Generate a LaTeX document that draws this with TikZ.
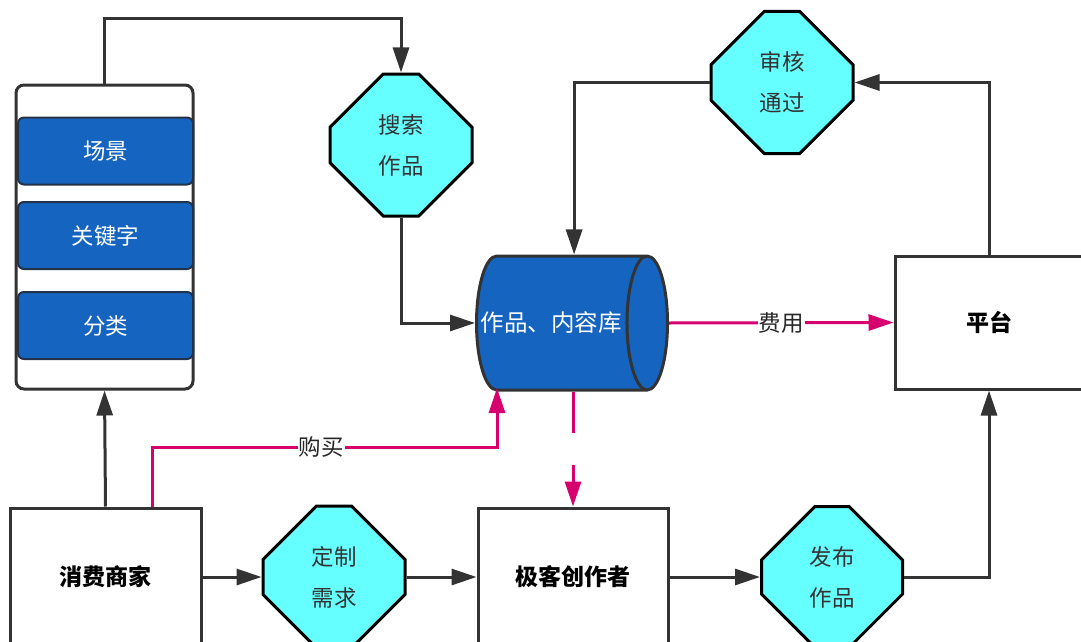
\documentclass[tikz,border=0pt]{standalone}
\usepackage{fontspec}
\setmainfont{Noto Sans CJK SC}
\usetikzlibrary{shapes.geometric,shapes.misc,arrows.meta,calc}
\definecolor{lineg}{RGB}{51,51,51}
\definecolor{pinkc}{RGB}{214,0,110}
\definecolor{cyanf}{RGB}{102,255,255}
\definecolor{blueb}{RGB}{21,101,192}
\definecolor{blued}{RGB}{35,50,75}
\begin{document}
\begin{tikzpicture}[x=1pt,y=-1pt,
  font=\fontsize{22.5}{41}\selectfont,
  octa/.style={chamfered rectangle, chamfered rectangle xsep=42pt, chamfered rectangle ysep=42pt,
    draw=black, line width=3pt, fill=cyanf, inner sep=0pt, minimum width=#1, minimum height=#1,
    align=center, text=black!80},
  plainbox/.style={draw=lineg, line width=3pt, fill=white, inner sep=0pt, font=\fontsize{23}{41}\selectfont\bfseries},
  bluebox/.style={draw=blued, line width=2pt, fill=blueb, rounded corners=6pt, inner sep=0pt,
    minimum width=175pt, minimum height=67pt, text=white},
  arr/.style={draw=lineg, line width=3pt, -{Triangle[length=25pt,width=16pt]}},
  parr/.style={draw=pinkc, line width=3pt, -{Triangle[length=25pt,width=16pt]}},
  lbl/.style={fill=white, inner sep=1pt, text=black!85}
]
\useasboundingbox (0,0) rectangle (1081,642);

% left container
\node[draw=lineg, line width=3pt, fill=white, rounded corners=8pt, minimum width=177pt, minimum height=304pt, inner sep=0pt] (cont) at (104.5,237) {};
\node[bluebox] (scene) at (105.5,151) {场景};
\node[bluebox] (kw) at (105.5,235.5) {关键字};
\node[bluebox] (cat) at (105.5,325.5) {分类};

% octagons
\node[octa=142pt] (search) at (401,145) {搜索\\作品};
\node[octa=142pt] (audit) at (782,82.5) {审核\\通过};
\node[octa=142pt] (need) at (334,577) {定制\\需求};
\node[octa=141pt] (pub) at (832,577) {发布\\作品};

% cylinder
\node[cylinder, draw=lineg, line width=3pt, cylinder uses custom fill, cylinder body fill=blueb,
  cylinder end fill=blueb, minimum width=134pt, minimum height=191pt, shape aspect=1.85,
  inner sep=0pt, text=white, font=\fontsize{23.5}{30}\selectfont, anchor=east] (cyl) at (669,323)
  {\makebox[0pt]{作品、内容库\hspace*{20pt}}};

% boxes
\node[plainbox, minimum width=188pt, minimum height=133pt] (plat) at (989,322.5) {平台};
\node[plainbox, minimum width=191pt, minimum height=138pt] (cons) at (105.5,577) {消费商家};
\node[plainbox, minimum width=190pt, minimum height=138pt] (geek) at (573,577) {极客创作者};

% connectors
\draw[arr] (cont.north) -- ++(0,-65) -| (search.north);
\draw[arr] (search.south) |- (cyl.west);
\draw[arr] (audit.west) -| ($(cyl.north)+(13,0)$);
\draw[arr] (plat.north) |- (audit.east);
\draw[parr] (cyl.east) -- node[lbl] {费用} (plat.west);
\draw[arr] (cons.north) -- (cont.south);
\coordinate (buyS) at ($(cons.north west)+(144,0)$);
\coordinate (buyE) at (497,388);
\draw[parr] (buyS) |- node[lbl, pos=0.745] {购买} (buyE |- 0,447) -- (buyE);
\draw[parr] (cyl.south -| geek.north) -- node[fill=white, inner sep=0pt, minimum width=8pt, minimum height=32pt] {} (geek.north);
\draw[arr] (cons.east) -- (need.west);
\draw[arr] (need.east) -- (geek.west);
\draw[arr] (geek.east) -- (pub.west);
\draw[arr] (pub.east) -| (plat.south);
\end{tikzpicture}
\end{document}
